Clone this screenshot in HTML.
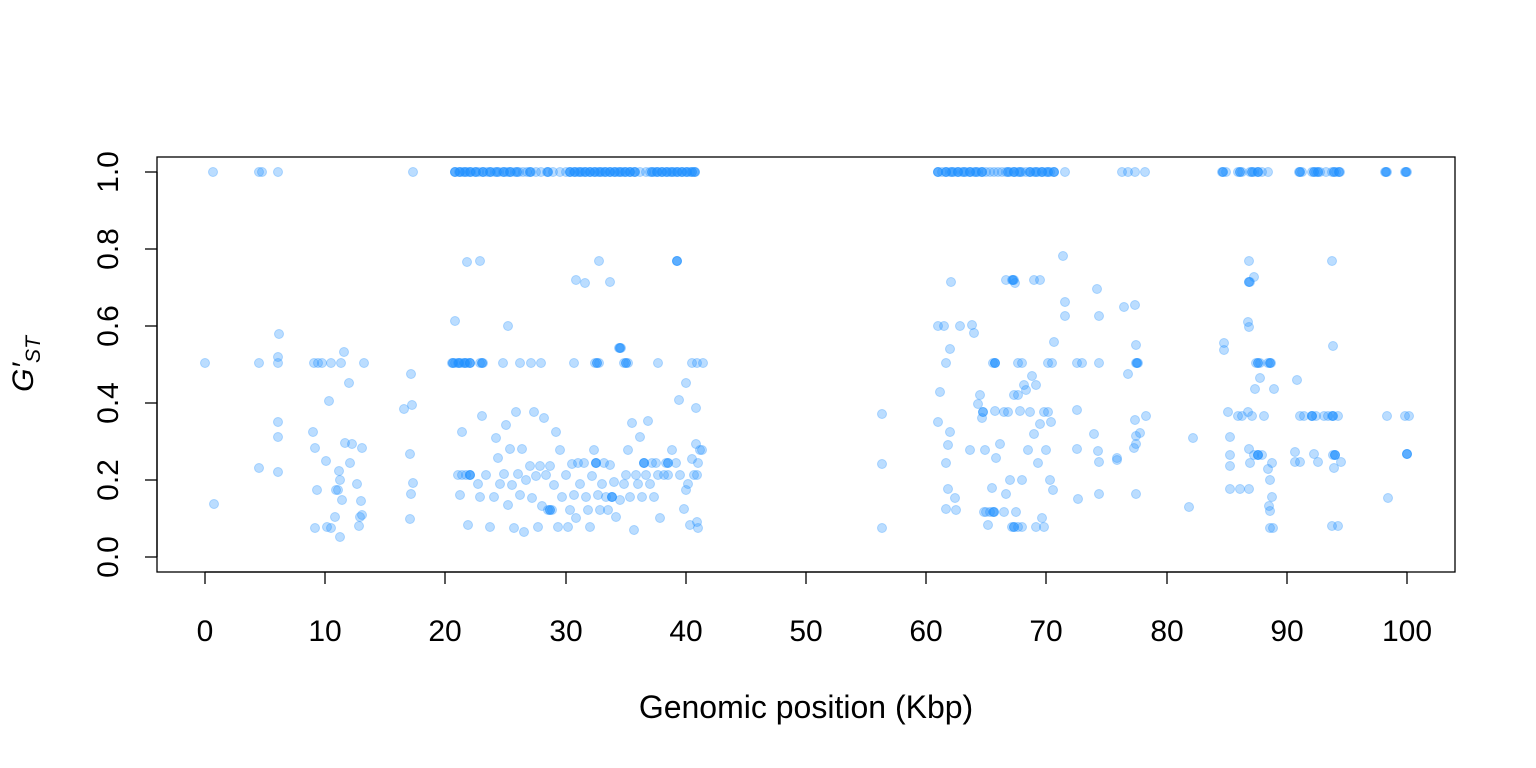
<!DOCTYPE html>
<html><head><meta charset="utf-8"><style>
html,body{margin:0;padding:0;background:#fff;}
svg{display:block;font-family:"Liberation Sans",sans-serif;}
</style></head><body>
<svg width="1536" height="768" xmlns="http://www.w3.org/2000/svg">
<rect x="157" y="157" width="1298" height="415" fill="none" stroke="#000" stroke-width="1.3"/>
<g fill="#1E90FF" fill-opacity="0.3" stroke="#1E90FF" stroke-opacity="0.3" stroke-width="1">
<!-- y = 1.0 row -->
<circle cx="213" cy="172" r="4.5"/><circle cx="259" cy="172" r="4.5"/><circle cx="262" cy="172" r="4.5"/><circle cx="278" cy="172" r="4.5"/><circle cx="413" cy="172" r="4.5"/>
<circle cx="455" cy="172" r="4.5"/><circle cx="459" cy="172" r="4.5"/><circle cx="463" cy="172" r="4.5"/><circle cx="467" cy="172" r="4.5"/><circle cx="471" cy="172" r="4.5"/><circle cx="475" cy="172" r="4.5"/><circle cx="479" cy="172" r="4.5"/><circle cx="483" cy="172" r="4.5"/><circle cx="487" cy="172" r="4.5"/><circle cx="491" cy="172" r="4.5"/><circle cx="495" cy="172" r="4.5"/><circle cx="499" cy="172" r="4.5"/><circle cx="503" cy="172" r="4.5"/><circle cx="507" cy="172" r="4.5"/><circle cx="511" cy="172" r="4.5"/><circle cx="515" cy="172" r="4.5"/><circle cx="519" cy="172" r="4.5"/><circle cx="523" cy="172" r="4.5"/><circle cx="527" cy="172" r="4.5"/><circle cx="531" cy="172" r="4.5"/><circle cx="536" cy="172" r="4.5"/><circle cx="541" cy="172" r="4.5"/><circle cx="547" cy="172" r="4.5"/><circle cx="553" cy="172" r="4.5"/><circle cx="560" cy="172" r="4.5"/><circle cx="566" cy="172" r="4.5"/><circle cx="570" cy="172" r="4.5"/><circle cx="574" cy="172" r="4.5"/><circle cx="578" cy="172" r="4.5"/><circle cx="582" cy="172" r="4.5"/><circle cx="586" cy="172" r="4.5"/><circle cx="590" cy="172" r="4.5"/><circle cx="594" cy="172" r="4.5"/><circle cx="598" cy="172" r="4.5"/><circle cx="602" cy="172" r="4.5"/><circle cx="606" cy="172" r="4.5"/><circle cx="610" cy="172" r="4.5"/><circle cx="614" cy="172" r="4.5"/><circle cx="618" cy="172" r="4.5"/><circle cx="622" cy="172" r="4.5"/><circle cx="626" cy="172" r="4.5"/><circle cx="630" cy="172" r="4.5"/><circle cx="634" cy="172" r="4.5"/><circle cx="640" cy="172" r="4.5"/><circle cx="646" cy="172" r="4.5"/><circle cx="650" cy="172" r="4.5"/><circle cx="654" cy="172" r="4.5"/><circle cx="658" cy="172" r="4.5"/><circle cx="662" cy="172" r="4.5"/><circle cx="666" cy="172" r="4.5"/><circle cx="670" cy="172" r="4.5"/><circle cx="674" cy="172" r="4.5"/><circle cx="678" cy="172" r="4.5"/><circle cx="682" cy="172" r="4.5"/><circle cx="686" cy="172" r="4.5"/><circle cx="690" cy="172" r="4.5"/><circle cx="694" cy="172" r="4.5"/>
<circle cx="938" cy="172" r="4.5"/><circle cx="942" cy="172" r="4.5"/><circle cx="946" cy="172" r="4.5"/><circle cx="950" cy="172" r="4.5"/><circle cx="954" cy="172" r="4.5"/><circle cx="958" cy="172" r="4.5"/><circle cx="962" cy="172" r="4.5"/><circle cx="966" cy="172" r="4.5"/><circle cx="970" cy="172" r="4.5"/><circle cx="974" cy="172" r="4.5"/><circle cx="978" cy="172" r="4.5"/><circle cx="982" cy="172" r="4.5"/><circle cx="986" cy="172" r="4.5"/><circle cx="990" cy="172" r="4.5"/><circle cx="994" cy="172" r="4.5"/><circle cx="998" cy="172" r="4.5"/><circle cx="1002" cy="172" r="4.5"/><circle cx="1006" cy="172" r="4.5"/><circle cx="1010" cy="172" r="4.5"/><circle cx="1014" cy="172" r="4.5"/><circle cx="1018" cy="172" r="4.5"/><circle cx="1022" cy="172" r="4.5"/><circle cx="1026" cy="172" r="4.5"/><circle cx="1030" cy="172" r="4.5"/><circle cx="1034" cy="172" r="4.5"/><circle cx="1038" cy="172" r="4.5"/><circle cx="1042" cy="172" r="4.5"/><circle cx="1046" cy="172" r="4.5"/><circle cx="1050" cy="172" r="4.5"/><circle cx="1054" cy="172" r="4.5"/><circle cx="1065" cy="172" r="4.5"/>
<circle cx="1122" cy="172" r="4.5"/><circle cx="1128" cy="172" r="4.5"/><circle cx="1135" cy="172" r="4.5"/><circle cx="1145" cy="172" r="4.5"/>
<circle cx="1222" cy="172" r="4.5"/><circle cx="1226" cy="172" r="4.5"/><circle cx="1238" cy="172" r="4.5"/><circle cx="1242" cy="172" r="4.5"/><circle cx="1250" cy="172" r="4.5"/><circle cx="1254" cy="172" r="4.5"/><circle cx="1258" cy="172" r="4.5"/><circle cx="1262" cy="172" r="4.5"/><circle cx="1268" cy="172" r="4.5"/>
<circle cx="1299" cy="172" r="4.5"/><circle cx="1302" cy="172" r="4.5"/><circle cx="1312" cy="172" r="4.5"/><circle cx="1316" cy="172" r="4.5"/><circle cx="1320" cy="172" r="4.5"/><circle cx="1326" cy="172" r="4.5"/><circle cx="1332" cy="172" r="4.5"/><circle cx="1336" cy="172" r="4.5"/><circle cx="1340" cy="172" r="4.5"/>
<circle cx="1385" cy="172" r="4.5"/><circle cx="1387" cy="172" r="4.5"/><circle cx="1405" cy="172" r="4.5"/><circle cx="1407" cy="172" r="4.5"/>
<!-- 0.5 row -->
<circle cx="205" cy="363" r="4.5"/><circle cx="259" cy="363" r="4.5"/><circle cx="278" cy="363" r="4.5"/><circle cx="278" cy="357" r="4.5"/><circle cx="314" cy="363" r="4.5"/><circle cx="318" cy="363" r="4.5"/><circle cx="322" cy="363" r="4.5"/><circle cx="331" cy="363" r="4.5"/><circle cx="341" cy="363" r="4.5"/><circle cx="364" cy="363" r="4.5"/>
<circle cx="452" cy="363" r="4.5"/><circle cx="455" cy="363" r="4.5"/><circle cx="458" cy="363" r="4.5"/><circle cx="461" cy="363" r="4.5"/><circle cx="464" cy="363" r="4.5"/><circle cx="467" cy="363" r="4.5"/><circle cx="470" cy="363" r="4.5"/><circle cx="480" cy="363" r="4.5"/><circle cx="483" cy="363" r="4.5"/><circle cx="503" cy="363" r="4.5"/><circle cx="520" cy="363" r="4.5"/><circle cx="531" cy="363" r="4.5"/><circle cx="541" cy="363" r="4.5"/><circle cx="574" cy="363" r="4.5"/><circle cx="595" cy="363" r="4.5"/><circle cx="599" cy="363" r="4.5"/><circle cx="624" cy="363" r="4.5"/><circle cx="628" cy="363" r="4.5"/><circle cx="658" cy="363" r="4.5"/><circle cx="692" cy="363" r="4.5"/><circle cx="697" cy="363" r="4.5"/><circle cx="703" cy="363" r="4.5"/>
<circle cx="619" cy="348" r="4.5"/><circle cx="621" cy="348" r="4.5"/>
<circle cx="946" cy="363" r="4.5"/><circle cx="995" cy="363" r="4.5"/><circle cx="993" cy="363" r="4.5"/><circle cx="1018" cy="363" r="4.5"/><circle cx="1022" cy="363" r="4.5"/><circle cx="1048" cy="363" r="4.5"/><circle cx="1052" cy="363" r="4.5"/><circle cx="1077" cy="363" r="4.5"/><circle cx="1082" cy="363" r="4.5"/><circle cx="1136" cy="363" r="4.5"/><circle cx="1138" cy="363" r="4.5"/><circle cx="1099" cy="363" r="4.5"/>
<circle cx="1256" cy="363" r="4.5"/><circle cx="1260" cy="363" r="4.5"/><circle cx="1268" cy="363" r="4.5"/><circle cx="1271" cy="363" r="4.5"/><circle cx="1224" cy="343" r="4.5"/><circle cx="1224" cy="350" r="4.5"/>
<!-- upper scattered -->
<circle cx="455" cy="321" r="4.5"/><circle cx="467" cy="262" r="4.5"/><circle cx="480" cy="261" r="4.5"/><circle cx="508" cy="326" r="4.5"/><circle cx="576" cy="280" r="4.5"/><circle cx="585" cy="283" r="4.5"/><circle cx="599" cy="261" r="4.5"/><circle cx="610" cy="282" r="4.5"/><circle cx="677" cy="261" r="4.5"/><circle cx="279" cy="334" r="4.5"/><circle cx="344" cy="352" r="4.5"/><circle cx="349" cy="383" r="4.5"/><circle cx="404" cy="409" r="4.5"/><circle cx="411" cy="374" r="4.5"/><circle cx="412" cy="405" r="4.5"/><circle cx="329" cy="401" r="4.5"/><circle cx="686" cy="383" r="4.5"/><circle cx="679" cy="400" r="4.5"/><circle cx="696" cy="408" r="4.5"/>
<circle cx="1063" cy="256" r="4.5"/><circle cx="1065" cy="302" r="4.5"/><circle cx="1065" cy="316" r="4.5"/><circle cx="1054" cy="342" r="4.5"/><circle cx="1097" cy="289" r="4.5"/><circle cx="1099" cy="316" r="4.5"/><circle cx="1124" cy="307" r="4.5"/><circle cx="1135" cy="305" r="4.5"/><circle cx="1136" cy="345" r="4.5"/><circle cx="1128" cy="374" r="4.5"/><circle cx="951" cy="282" r="4.5"/><circle cx="938" cy="326" r="4.5"/><circle cx="944" cy="326" r="4.5"/><circle cx="960" cy="326" r="4.5"/><circle cx="972" cy="325" r="4.5"/><circle cx="974" cy="333" r="4.5"/><circle cx="950" cy="349" r="4.5"/><circle cx="1006" cy="280" r="4.5"/><circle cx="1012" cy="280" r="4.5"/><circle cx="1014" cy="280" r="4.5"/><circle cx="1034" cy="280" r="4.5"/><circle cx="1040" cy="280" r="4.5"/><circle cx="1015" cy="283" r="4.5"/>
<circle cx="1249" cy="261" r="4.5"/><circle cx="1254" cy="277" r="4.5"/><circle cx="1250" cy="282" r="4.5"/><circle cx="1248" cy="322" r="4.5"/><circle cx="1249" cy="327" r="4.5"/><circle cx="1332" cy="261" r="4.5"/><circle cx="1333" cy="346" r="4.5"/><circle cx="1297" cy="380" r="4.5"/><circle cx="1255" cy="389" r="4.5"/><circle cx="1260" cy="378" r="4.5"/><circle cx="1274" cy="389" r="4.5"/><circle cx="940" cy="392" r="4.5"/>
<!-- lower scattered, 21-41 cluster -->
<circle cx="458" cy="475" r="4.5"/><circle cx="462" cy="475" r="4.5"/><circle cx="466" cy="475" r="4.5"/><circle cx="470" cy="475" r="4.5"/><circle cx="460" cy="495" r="4.5"/><circle cx="462" cy="432" r="4.5"/><circle cx="468" cy="525" r="4.5"/><circle cx="478" cy="484" r="4.5"/><circle cx="480" cy="497" r="4.5"/><circle cx="482" cy="416" r="4.5"/><circle cx="486" cy="475" r="4.5"/><circle cx="490" cy="527" r="4.5"/><circle cx="494" cy="497" r="4.5"/><circle cx="496" cy="438" r="4.5"/><circle cx="498" cy="458" r="4.5"/><circle cx="500" cy="484" r="4.5"/><circle cx="504" cy="474" r="4.5"/><circle cx="506" cy="425" r="4.5"/><circle cx="508" cy="505" r="4.5"/><circle cx="510" cy="449" r="4.5"/><circle cx="512" cy="485" r="4.5"/><circle cx="514" cy="528" r="4.5"/><circle cx="516" cy="412" r="4.5"/><circle cx="518" cy="474" r="4.5"/><circle cx="520" cy="495" r="4.5"/><circle cx="522" cy="449" r="4.5"/><circle cx="524" cy="532" r="4.5"/><circle cx="526" cy="480" r="4.5"/><circle cx="530" cy="466" r="4.5"/><circle cx="532" cy="498" r="4.5"/><circle cx="534" cy="412" r="4.5"/><circle cx="536" cy="476" r="4.5"/><circle cx="538" cy="527" r="4.5"/><circle cx="540" cy="466" r="4.5"/><circle cx="542" cy="506" r="4.5"/><circle cx="544" cy="418" r="4.5"/><circle cx="546" cy="475" r="4.5"/><circle cx="548" cy="510" r="4.5"/><circle cx="550" cy="466" r="4.5"/><circle cx="552" cy="510" r="4.5"/><circle cx="554" cy="485" r="4.5"/><circle cx="556" cy="432" r="4.5"/><circle cx="558" cy="527" r="4.5"/><circle cx="560" cy="450" r="4.5"/><circle cx="562" cy="497" r="4.5"/><circle cx="566" cy="475" r="4.5"/><circle cx="568" cy="527" r="4.5"/><circle cx="570" cy="510" r="4.5"/><circle cx="572" cy="464" r="4.5"/><circle cx="574" cy="495" r="4.5"/><circle cx="576" cy="518" r="4.5"/><circle cx="578" cy="463" r="4.5"/><circle cx="580" cy="484" r="4.5"/><circle cx="584" cy="463" r="4.5"/><circle cx="586" cy="497" r="4.5"/><circle cx="588" cy="510" r="4.5"/><circle cx="590" cy="527" r="4.5"/><circle cx="592" cy="476" r="4.5"/><circle cx="594" cy="450" r="4.5"/><circle cx="596" cy="463" r="4.5"/><circle cx="598" cy="495" r="4.5"/><circle cx="600" cy="510" r="4.5"/><circle cx="602" cy="484" r="4.5"/><circle cx="604" cy="463" r="4.5"/><circle cx="606" cy="497" r="4.5"/><circle cx="608" cy="510" r="4.5"/><circle cx="610" cy="465" r="4.5"/><circle cx="612" cy="497" r="4.5"/><circle cx="614" cy="482" r="4.5"/><circle cx="616" cy="517" r="4.5"/><circle cx="620" cy="500" r="4.5"/><circle cx="624" cy="484" r="4.5"/><circle cx="626" cy="475" r="4.5"/><circle cx="628" cy="450" r="4.5"/><circle cx="630" cy="497" r="4.5"/><circle cx="632" cy="423" r="4.5"/><circle cx="634" cy="530" r="4.5"/><circle cx="636" cy="475" r="4.5"/><circle cx="638" cy="484" r="4.5"/><circle cx="640" cy="437" r="4.5"/><circle cx="642" cy="497" r="4.5"/><circle cx="644" cy="463" r="4.5"/><circle cx="646" cy="475" r="4.5"/><circle cx="648" cy="421" r="4.5"/><circle cx="650" cy="484" r="4.5"/><circle cx="652" cy="463" r="4.5"/><circle cx="654" cy="497" r="4.5"/><circle cx="656" cy="463" r="4.5"/><circle cx="658" cy="475" r="4.5"/><circle cx="660" cy="518" r="4.5"/><circle cx="664" cy="475" r="4.5"/><circle cx="666" cy="463" r="4.5"/><circle cx="668" cy="475" r="4.5"/><circle cx="672" cy="450" r="4.5"/><circle cx="676" cy="463" r="4.5"/><circle cx="680" cy="475" r="4.5"/><circle cx="684" cy="509" r="4.5"/><circle cx="686" cy="490" r="4.5"/><circle cx="688" cy="484" r="4.5"/><circle cx="690" cy="525" r="4.5"/><circle cx="692" cy="459" r="4.5"/><circle cx="694" cy="475" r="4.5"/><circle cx="696" cy="444" r="4.5"/><circle cx="698" cy="528" r="4.5"/><circle cx="700" cy="450" r="4.5"/><circle cx="698" cy="463" r="4.5"/><circle cx="702" cy="450" r="4.5"/><circle cx="697" cy="475" r="4.5"/><circle cx="697" cy="522" r="4.5"/>
<!-- 0-17 lows -->
<circle cx="214" cy="504" r="4.5"/><circle cx="259" cy="468" r="4.5"/><circle cx="278" cy="422" r="4.5"/><circle cx="278" cy="437" r="4.5"/><circle cx="278" cy="472" r="4.5"/><circle cx="313" cy="432" r="4.5"/><circle cx="315" cy="448" r="4.5"/><circle cx="317" cy="490" r="4.5"/><circle cx="315" cy="528" r="4.5"/><circle cx="326" cy="461" r="4.5"/><circle cx="327" cy="527" r="4.5"/><circle cx="331" cy="528" r="4.5"/><circle cx="335" cy="517" r="4.5"/><circle cx="338" cy="490" r="4.5"/><circle cx="339" cy="471" r="4.5"/><circle cx="340" cy="480" r="4.5"/><circle cx="342" cy="500" r="4.5"/><circle cx="340" cy="537" r="4.5"/><circle cx="345" cy="443" r="4.5"/><circle cx="350" cy="463" r="4.5"/><circle cx="352" cy="444" r="4.5"/><circle cx="357" cy="484" r="4.5"/><circle cx="360" cy="517" r="4.5"/><circle cx="361" cy="501" r="4.5"/><circle cx="362" cy="448" r="4.5"/><circle cx="359" cy="526" r="4.5"/><circle cx="410" cy="454" r="4.5"/><circle cx="411" cy="494" r="4.5"/><circle cx="410" cy="519" r="4.5"/><circle cx="413" cy="483" r="4.5"/><circle cx="336" cy="490" r="4.5"/><circle cx="362" cy="515" r="4.5"/>
<!-- 56 -->
<circle cx="882" cy="414" r="4.5"/><circle cx="882" cy="464" r="4.5"/><circle cx="882" cy="528" r="4.5"/>
<!-- 61-71 lows -->
<circle cx="938" cy="422" r="4.5"/><circle cx="946" cy="463" r="4.5"/><circle cx="948" cy="445" r="4.5"/><circle cx="950" cy="432" r="4.5"/><circle cx="948" cy="489" r="4.5"/><circle cx="946" cy="509" r="4.5"/><circle cx="955" cy="498" r="4.5"/><circle cx="956" cy="510" r="4.5"/><circle cx="970" cy="450" r="4.5"/><circle cx="978" cy="404" r="4.5"/><circle cx="980" cy="395" r="4.5"/><circle cx="982" cy="418" r="4.5"/><circle cx="985" cy="450" r="4.5"/><circle cx="984" cy="512" r="4.5"/><circle cx="988" cy="525" r="4.5"/><circle cx="990" cy="512" r="4.5"/><circle cx="992" cy="488" r="4.5"/><circle cx="993" cy="512" r="4.5"/><circle cx="995" cy="411" r="4.5"/><circle cx="996" cy="458" r="4.5"/><circle cx="1000" cy="444" r="4.5"/><circle cx="1004" cy="412" r="4.5"/><circle cx="1006" cy="494" r="4.5"/><circle cx="1008" cy="412" r="4.5"/><circle cx="1010" cy="480" r="4.5"/><circle cx="1012" cy="527" r="4.5"/><circle cx="1014" cy="395" r="4.5"/><circle cx="1016" cy="512" r="4.5"/><circle cx="1018" cy="395" r="4.5"/><circle cx="1020" cy="411" r="4.5"/><circle cx="1022" cy="480" r="4.5"/><circle cx="1024" cy="385" r="4.5"/><circle cx="1026" cy="390" r="4.5"/><circle cx="1028" cy="450" r="4.5"/><circle cx="1030" cy="412" r="4.5"/><circle cx="1032" cy="376" r="4.5"/><circle cx="1034" cy="434" r="4.5"/><circle cx="1036" cy="385" r="4.5"/><circle cx="1038" cy="463" r="4.5"/><circle cx="1040" cy="424" r="4.5"/><circle cx="1042" cy="518" r="4.5"/><circle cx="1044" cy="412" r="4.5"/><circle cx="1046" cy="450" r="4.5"/><circle cx="1048" cy="412" r="4.5"/><circle cx="1050" cy="480" r="4.5"/><circle cx="1051" cy="422" r="4.5"/><circle cx="1053" cy="490" r="4.5"/><circle cx="1022" cy="527" r="4.5"/><circle cx="1018" cy="527" r="4.5"/><circle cx="1036" cy="527" r="4.5"/><circle cx="1004" cy="512" r="4.5"/><circle cx="986" cy="512" r="4.5"/><circle cx="1044" cy="527" r="4.5"/>
<!-- 72-82 lows -->
<circle cx="1077" cy="410" r="4.5"/><circle cx="1077" cy="449" r="4.5"/><circle cx="1078" cy="499" r="4.5"/><circle cx="1094" cy="434" r="4.5"/><circle cx="1098" cy="451" r="4.5"/><circle cx="1099" cy="494" r="4.5"/><circle cx="1099" cy="462" r="4.5"/><circle cx="1117" cy="458" r="4.5"/><circle cx="1117" cy="460" r="4.5"/><circle cx="1135" cy="420" r="4.5"/><circle cx="1136" cy="444" r="4.5"/><circle cx="1136" cy="436" r="4.5"/><circle cx="1140" cy="433" r="4.5"/><circle cx="1136" cy="494" r="4.5"/><circle cx="1146" cy="416" r="4.5"/><circle cx="1134" cy="448" r="4.5"/><circle cx="1193" cy="438" r="4.5"/><circle cx="1189" cy="507" r="4.5"/>
<!-- 85-89 lows -->
<circle cx="1228" cy="412" r="4.5"/><circle cx="1230" cy="437" r="4.5"/><circle cx="1230" cy="455" r="4.5"/><circle cx="1230" cy="466" r="4.5"/><circle cx="1230" cy="489" r="4.5"/><circle cx="1240" cy="489" r="4.5"/><circle cx="1238" cy="416" r="4.5"/><circle cx="1242" cy="416" r="4.5"/><circle cx="1248" cy="412" r="4.5"/><circle cx="1249" cy="449" r="4.5"/><circle cx="1250" cy="463" r="4.5"/><circle cx="1249" cy="489" r="4.5"/><circle cx="1252" cy="416" r="4.5"/><circle cx="1254" cy="455" r="4.5"/><circle cx="1258" cy="455" r="4.5"/><circle cx="1262" cy="455" r="4.5"/><circle cx="1264" cy="416" r="4.5"/><circle cx="1268" cy="469" r="4.5"/><circle cx="1270" cy="480" r="4.5"/><circle cx="1269" cy="506" r="4.5"/><circle cx="1270" cy="511" r="4.5"/><circle cx="1270" cy="528" r="4.5"/><circle cx="1273" cy="528" r="4.5"/><circle cx="1272" cy="497" r="4.5"/><circle cx="1272" cy="463" r="4.5"/>
<!-- 91-94 lows -->
<circle cx="1295" cy="452" r="4.5"/><circle cx="1295" cy="462" r="4.5"/><circle cx="1300" cy="462" r="4.5"/><circle cx="1300" cy="416" r="4.5"/><circle cx="1304" cy="416" r="4.5"/><circle cx="1312" cy="416" r="4.5"/><circle cx="1316" cy="416" r="4.5"/><circle cx="1314" cy="454" r="4.5"/><circle cx="1318" cy="462" r="4.5"/><circle cx="1324" cy="416" r="4.5"/><circle cx="1328" cy="416" r="4.5"/><circle cx="1332" cy="416" r="4.5"/><circle cx="1333" cy="455" r="4.5"/><circle cx="1335" cy="455" r="4.5"/><circle cx="1334" cy="468" r="4.5"/><circle cx="1338" cy="416" r="4.5"/><circle cx="1341" cy="462" r="4.5"/><circle cx="1332" cy="526" r="4.5"/><circle cx="1338" cy="526" r="4.5"/>
<circle cx="1387" cy="416" r="4.5"/><circle cx="1388" cy="498" r="4.5"/><circle cx="1405" cy="416" r="4.5"/><circle cx="1409" cy="416" r="4.5"/><circle cx="1407" cy="454" r="4.5"/>
</g>
<!-- darker overlap layer -->
<g fill="#1E90FF" fill-opacity="0.6" stroke="#1E90FF" stroke-opacity="0.6" stroke-width="1">
<circle cx="455" cy="172" r="4.5"/><circle cx="460" cy="172" r="4.5"/><circle cx="465" cy="172" r="4.5"/><circle cx="470" cy="172" r="4.5"/><circle cx="476" cy="172" r="4.5"/><circle cx="483" cy="172" r="4.5"/><circle cx="490" cy="172" r="4.5"/><circle cx="497" cy="172" r="4.5"/><circle cx="504" cy="172" r="4.5"/><circle cx="510" cy="172" r="4.5"/><circle cx="517" cy="172" r="4.5"/><circle cx="530" cy="172" r="4.5"/><circle cx="548" cy="172" r="4.5"/><circle cx="570" cy="172" r="4.5"/><circle cx="575" cy="172" r="4.5"/><circle cx="580" cy="172" r="4.5"/><circle cx="585" cy="172" r="4.5"/><circle cx="590" cy="172" r="4.5"/><circle cx="595" cy="172" r="4.5"/><circle cx="600" cy="172" r="4.5"/><circle cx="605" cy="172" r="4.5"/><circle cx="610" cy="172" r="4.5"/><circle cx="615" cy="172" r="4.5"/><circle cx="620" cy="172" r="4.5"/><circle cx="625" cy="172" r="4.5"/><circle cx="630" cy="172" r="4.5"/><circle cx="635" cy="172" r="4.5"/><circle cx="652" cy="172" r="4.5"/><circle cx="657" cy="172" r="4.5"/><circle cx="662" cy="172" r="4.5"/><circle cx="667" cy="172" r="4.5"/><circle cx="672" cy="172" r="4.5"/><circle cx="677" cy="172" r="4.5"/><circle cx="682" cy="172" r="4.5"/><circle cx="687" cy="172" r="4.5"/><circle cx="692" cy="172" r="4.5"/><circle cx="695" cy="172" r="4.5"/>
<circle cx="938" cy="172" r="4.5"/><circle cx="946" cy="172" r="4.5"/><circle cx="952" cy="172" r="4.5"/><circle cx="958" cy="172" r="4.5"/><circle cx="964" cy="172" r="4.5"/><circle cx="970" cy="172" r="4.5"/><circle cx="976" cy="172" r="4.5"/><circle cx="982" cy="172" r="4.5"/><circle cx="1008" cy="172" r="4.5"/><circle cx="1014" cy="172" r="4.5"/><circle cx="1020" cy="172" r="4.5"/><circle cx="1030" cy="172" r="4.5"/><circle cx="1036" cy="172" r="4.5"/><circle cx="1042" cy="172" r="4.5"/><circle cx="1048" cy="172" r="4.5"/><circle cx="1054" cy="172" r="4.5"/>
<circle cx="1223" cy="172" r="4.5"/><circle cx="1240" cy="172" r="4.5"/><circle cx="1252" cy="172" r="4.5"/><circle cx="1258" cy="172" r="4.5"/><circle cx="1300" cy="172" r="4.5"/><circle cx="1314" cy="172" r="4.5"/><circle cx="1318" cy="172" r="4.5"/><circle cx="1334" cy="172" r="4.5"/><circle cx="1339" cy="172" r="4.5"/><circle cx="1386" cy="172" r="4.5"/><circle cx="1406" cy="172" r="4.5"/>
<circle cx="453" cy="363" r="4.5"/><circle cx="459" cy="363" r="4.5"/><circle cx="465" cy="363" r="4.5"/><circle cx="470" cy="363" r="4.5"/><circle cx="482" cy="363" r="4.5"/><circle cx="597" cy="363" r="4.5"/><circle cx="626" cy="363" r="4.5"/><circle cx="620" cy="348" r="4.5"/><circle cx="995" cy="363" r="4.5"/><circle cx="1137" cy="363" r="4.5"/><circle cx="1258" cy="363" r="4.5"/><circle cx="1270" cy="363" r="4.5"/><circle cx="677" cy="261" r="4.5"/>
<circle cx="1013" cy="280" r="4.5"/><circle cx="1249" cy="282" r="4.5"/><circle cx="983" cy="412" r="4.5"/><circle cx="1312" cy="416" r="4.5"/><circle cx="1333" cy="416" r="4.5"/><circle cx="1407" cy="454" r="4.5"/><circle cx="1335" cy="455" r="4.5"/><circle cx="1258" cy="455" r="4.5"/>
<circle cx="550" cy="510" r="4.5"/><circle cx="596" cy="463" r="4.5"/><circle cx="644" cy="463" r="4.5"/><circle cx="668" cy="463" r="4.5"/><circle cx="612" cy="497" r="4.5"/><circle cx="1014" cy="527" r="4.5"/><circle cx="994" cy="512" r="4.5"/><circle cx="470" cy="475" r="4.5"/>
</g>
<g stroke="#000" stroke-width="1.3">
<line x1="205" y1="572" x2="1407" y2="572"/>
<line x1="205" y1="572" x2="205" y2="584"/><line x1="325" y1="572" x2="325" y2="584"/><line x1="445" y1="572" x2="445" y2="584"/><line x1="566" y1="572" x2="566" y2="584"/><line x1="686" y1="572" x2="686" y2="584"/><line x1="806" y1="572" x2="806" y2="584"/><line x1="926" y1="572" x2="926" y2="584"/><line x1="1046" y1="572" x2="1046" y2="584"/><line x1="1167" y1="572" x2="1167" y2="584"/><line x1="1287" y1="572" x2="1287" y2="584"/><line x1="1407" y1="572" x2="1407" y2="584"/>
<line x1="157" y1="557" x2="157" y2="172"/>
<line x1="145" y1="557" x2="157" y2="557"/><line x1="145" y1="480" x2="157" y2="480"/><line x1="145" y1="403" x2="157" y2="403"/><line x1="145" y1="326" x2="157" y2="326"/><line x1="145" y1="249" x2="157" y2="249"/><line x1="145" y1="172" x2="157" y2="172"/>
</g>
<g font-size="30" text-anchor="middle" fill="#000">
<text x="205" y="641">0</text><text x="325" y="641">10</text><text x="445" y="641">20</text><text x="566" y="641">30</text><text x="686" y="641">40</text><text x="806" y="641">50</text><text x="926" y="641">60</text><text x="1046" y="641">70</text><text x="1167" y="641">80</text><text x="1287" y="641">90</text><text x="1407" y="641">100</text>
<text x="806" y="718" font-size="32">Genomic position (Kbp)</text>
<text transform="translate(118,557) rotate(-90)">0.0</text>
<text transform="translate(118,480) rotate(-90)">0.2</text>
<text transform="translate(118,403) rotate(-90)">0.4</text>
<text transform="translate(118,326) rotate(-90)">0.6</text>
<text transform="translate(118,249) rotate(-90)">0.8</text>
<text transform="translate(118,172) rotate(-90)">1.0</text>
<text transform="translate(33,364) rotate(-90)" font-style="italic" font-size="30">G′<tspan font-size="21" dy="7">ST</tspan></text>
</g>
</svg>
</body></html>
